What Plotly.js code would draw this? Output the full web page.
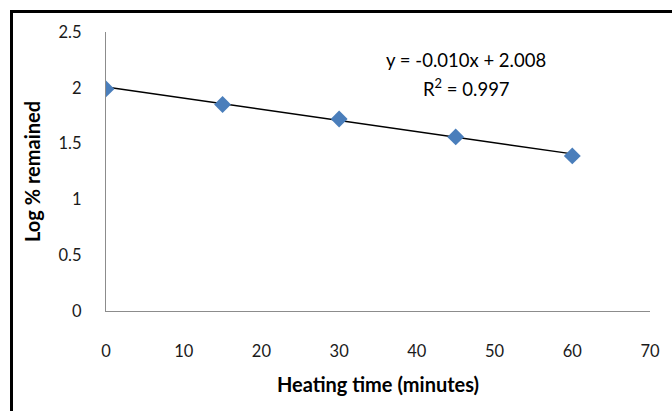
<!DOCTYPE html>
<html>
<head>
<meta charset="utf-8">
<script src="https://cdn.plot.ly/plotly-3.0.1.min.js"></script>
<style>
html,body{margin:0;padding:0;background:#fff;}
#wrap{position:relative;width:672px;height:411px;overflow:hidden;}
#chart{width:672px;height:411px;}
#frame{position:absolute;left:10px;top:10px;width:700px;height:450px;border-top:3px solid #000;border-left:3px solid #000;pointer-events:none;}
</style>
</head>
<body>
<div id="wrap"><div id="chart"></div><div id="frame"></div></div>
<script>
const heatingTime = [0, 15, 30, 45, 60];
const logRemained = [1.99, 1.85, 1.72, 1.56, 1.39];
const trendSlope = -0.010;
const trendIntercept = 2.008;
const trendX = [0, 60];
const xTicks = [0, 10, 20, 30, 40, 50, 60, 70];
const yTicks = [0, 0.5, 1, 1.5, 2, 2.5];
const yTickText = ['0', '0.5', '1', '1.5', '2', '2.5'];
const eqText = 'y = -0.010x + 2.008';
const r2Text = 'R<sup>2</sup> = 0.997';

const trendY = trendX.map(x => trendSlope * x + trendIntercept);
const font = 'Lato, "Open Sans", sans-serif';

const data = [
  {x: trendX, y: trendY, type: 'scatter', mode: 'lines',
   line: {color: '#000000', width: 1.5}, hoverinfo: 'skip', showlegend: false},
  {x: heatingTime, y: logRemained, type: 'scatter', mode: 'markers',
   marker: {symbol: 'diamond', size: 13, color: '#4a7ebb'}, showlegend: false}
];

const layout = {
  width: 672, height: 411,
  margin: {l: 106, r: 22, t: 32, b: 100},
  paper_bgcolor: '#ffffff', plot_bgcolor: '#ffffff',
  font: {family: font, size: 16.5, color: '#1a1a1a'},
  showlegend: false,
  xaxis: {
    range: [0, 70], tickvals: xTicks, ticktext: xTicks.map(String),
    showgrid: false, zeroline: false, showline: true, linecolor: '#8c8c8c', linewidth: 1.2,
    ticks: '', ticklabelstandoff: 25,
    tickfont: {family: font, size: 16.5, color: '#1a1a1a'},
    title: {text: '<b>Heating time (minutes)</b>', font: {family: font, size: 20, color: '#000'}, standoff: 18}
  },
  yaxis: {
    range: [0, 2.5], tickvals: yTicks, ticktext: yTickText,
    showgrid: false, zeroline: false, showline: true, linecolor: '#8c8c8c', linewidth: 1.2,
    ticks: '', ticklabelstandoff: 20,
    tickfont: {family: font, size: 16.5, color: '#1a1a1a'},
    title: {text: '<b>Log % remained</b>', font: {family: font, size: 20, color: '#000'}, standoff: 12}
  },
  annotations: [
    {x: 466, y: 60, xref: 'paper', yref: 'paper', xanchor: 'center', yanchor: 'middle',
     text: eqText, showarrow: false, font: {family: font, size: 18.5, color: '#000'}},
    {x: 466, y: 87, xref: 'paper', yref: 'paper', xanchor: 'center', yanchor: 'middle',
     text: r2Text, showarrow: false, font: {family: font, size: 18.5, color: '#000'}}
  ]
};
// convert pixel positions of annotations to paper coords
const pw = 672 - 106 - 22, ph = 411 - 32 - 100;
layout.annotations.forEach(a => { a.x = (a.x - 106) / pw; a.y = 1 - (a.y - 32) / ph; });

Plotly.newPlot('chart', data, layout, {staticPlot: true});
</script>
</body>
</html>
